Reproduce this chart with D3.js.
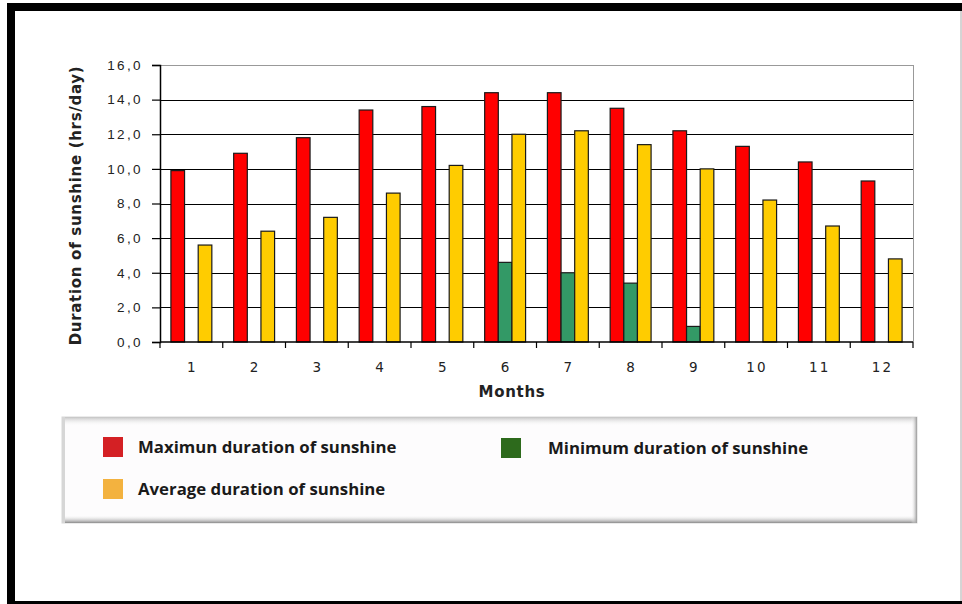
<!DOCTYPE html>
<html>
<head>
<meta charset="utf-8">
<script src="https://cdn.jsdelivr.net/npm/d3@7"></script>
<style>
  body { margin: 0; background: #fff; }
</style>
</head>
<body>
<div id="chart-area"></div>
<script>
// data
const months = ['1', '2', '3', '4', '5', '6', '7', '8', '9', '10', '11', '12'];
const maxSun = [9.9, 10.9, 11.8, 13.4, 13.6, 14.4, 14.4, 13.5, 12.2, 11.3, 10.4, 9.3];
const minSun = [0, 0, 0, 0, 0, 4.6, 4.0, 3.4, 0.9, 0, 0, 0];
const avgSun = [5.6, 6.4, 7.2, 8.6, 10.2, 12.0, 12.2, 11.4, 10.0, 8.2, 6.7, 4.8];
const yTicks = [0, 2, 4, 6, 8, 10, 12, 14, 16];
const legendLabels = ['Maximun duration of sunshine', 'Minimum duration of sunshine', 'Average duration of sunshine'];

const seriesKeys = ['max', 'min', 'avg'];
const barColor = { max: '#ff0000', min: '#339966', avg: '#ffcc00' };
const legendColor = ['#d42024', '#2d6a1c', '#f3b23f'];
// legend layout: swatch position and gap to the label
const legendPos = [
  { x: 103, y: 437, dx: 35 },
  { x: 501, y: 438, dx: 47 },
  { x: 103, y: 479, dx: 35 }
];

const W = 962, H = 604;
const plot = { left: 160, right: 913, top: 65, bottom: 342 };

let svg = d3.select('#chart-area')
  .append('svg')
  .attr('width', W)
  .attr('height', H)
  .style('font-family', '"DejaVu Sans", Verdana, sans-serif');

// outer frame
svg.append('rect').attr('x', 0).attr('y', 0).attr('width', W).attr('height', H).attr('fill', '#fff');
svg.append('rect').attr('x', 7).attr('y', 3).attr('width', W - 7).attr('height', 8).attr('fill', '#000');
svg.append('rect').attr('x', 7).attr('y', 3).attr('width', 8).attr('height', H - 3).attr('fill', '#000');
svg.append('rect').attr('x', 7).attr('y', 601).attr('width', W - 7).attr('height', 3).attr('fill', '#000');
svg.append('line').attr('x1', 961).attr('x2', 961).attr('y1', 11).attr('y2', 601)
  .attr('stroke', '#aaa').attr('stroke-width', 1);

const x0 = d3.scaleBand().domain(months).range([plot.left, plot.right]).padding(0);
const x1 = d3.scaleBand().domain(seriesKeys).range([0, x0.bandwidth()]).paddingInner(0).paddingOuter(0.8);
const y = d3.scaleLinear().domain([0, 16]).range([plot.bottom, plot.top]);

let g = svg.append('g');

// gridlines
g.append('g')
  .selectAll('line')
  .data(yTicks.filter(d => d > 0))
  .join('line')
  .attr('x1', plot.left).attr('x2', plot.right)
  .attr('y1', d => Math.round(y(d)) + 0.5).attr('y2', d => Math.round(y(d)) + 0.5)
  .attr('stroke', d => d === 16 ? '#999' : '#000')
  .attr('stroke-width', 1);

// right border of plot area
g.append('line')
  .attr('x1', plot.right + 0.5).attr('x2', plot.right + 0.5)
  .attr('y1', plot.top).attr('y2', plot.bottom)
  .attr('stroke', '#999');

// bars
const rows = months.map((m, i) => ({ month: m, max: maxSun[i], min: minSun[i], avg: avgSun[i] }));

g.append('g')
  .selectAll('g')
  .data(rows)
  .join('g')
  .attr('transform', d => `translate(${x0(d.month)},0)`)
  .selectAll('rect')
  .data(d => seriesKeys.filter(k => d[k] > 0).map(k => ({ key: k, value: d[k] })))
  .join('rect')
  .attr('x', d => x1(d.key))
  .attr('width', x1.bandwidth())
  .attr('y', d => y(d.value))
  .attr('height', d => y(0) - y(d.value))
  .attr('fill', d => barColor[d.key])
  .attr('stroke', '#1a1a1a')
  .attr('stroke-width', 1.2);

// y axis
const yAxis = d3.axisLeft(y)
  .tickValues(yTicks)
  .tickSize(8)
  .tickPadding(9)
  .tickFormat(d => d3.format('.1f')(d).replace('.', ','));

const yg = g.append('g')
  .attr('transform', `translate(${plot.left},0)`)
  .call(yAxis);
yg.select('.domain').attr('stroke', '#000').attr('stroke-width', 1.5);
yg.selectAll('.tick line').attr('stroke', '#000').attr('stroke-width', 1.2);
yg.selectAll('.tick text')
  .attr('font-size', 13.5)
  .attr('fill', '#222')
  .attr('letter-spacing', '2.4px');

// x axis: ticks sit between the months
const xg = g.append('g')
  .attr('transform', `translate(0,${plot.bottom})`);
xg.append('line')
  .attr('x1', plot.left).attr('x2', plot.right)
  .attr('stroke', '#000').attr('stroke-width', 1.5);
xg.selectAll('.xtick')
  .data(months.concat(['end']))
  .join('line')
  .attr('class', 'xtick')
  .attr('x1', d => d === 'end' ? plot.right : x0(d))
  .attr('x2', d => d === 'end' ? plot.right : x0(d))
  .attr('y1', 0).attr('y2', 6)
  .attr('stroke', '#000').attr('stroke-width', 1.2);
xg.selectAll('.xlabel')
  .data(months)
  .join('text')
  .attr('class', 'xlabel')
  .attr('x', d => x0(d) + x0.bandwidth() / 2 + 1)
  .attr('y', 30)
  .attr('text-anchor', 'middle')
  .attr('font-size', 13.5)
  .attr('letter-spacing', '2.4px')
  .attr('fill', '#222')
  .text(d => d);

// axis titles
svg.append('text')
  .attr('x', 512).attr('y', 397)
  .attr('text-anchor', 'middle')
  .attr('font-size', 15)
  .attr('font-weight', 'bold')
  .attr('letter-spacing', '0.7px')
  .attr('fill', '#222')
  .text('Months');

svg.append('text')
  .attr('transform', `translate(81,${(plot.top + plot.bottom) / 2 + 2}) rotate(-90)`)
  .attr('text-anchor', 'middle')
  .attr('font-size', 15)
  .attr('font-weight', 'bold')
  .attr('letter-spacing', '0.7px')
  .attr('fill', '#222')
  .text('Duration of sunshine (hrs/day)');

// legend box with soft bevel shadow
const defs = svg.append('defs');
const gradTop = defs.append('linearGradient').attr('id', 'gTop').attr('x1', 0).attr('x2', 0).attr('y1', 0).attr('y2', 1);
gradTop.append('stop').attr('offset', 0).attr('stop-color', '#c4c4c4');
gradTop.append('stop').attr('offset', 1).attr('stop-color', '#ffffff').attr('stop-opacity', 0);
const gradBot = defs.append('linearGradient').attr('id', 'gBot').attr('x1', 0).attr('x2', 0).attr('y1', 0).attr('y2', 1);
gradBot.append('stop').attr('offset', 0).attr('stop-color', '#ffffff').attr('stop-opacity', 0);
gradBot.append('stop').attr('offset', 1).attr('stop-color', '#8c8c8c');
const gradRight = defs.append('linearGradient').attr('id', 'gRight').attr('x1', 0).attr('x2', 1).attr('y1', 0).attr('y2', 0);
gradRight.append('stop').attr('offset', 0).attr('stop-color', '#ffffff').attr('stop-opacity', 0);
gradRight.append('stop').attr('offset', 1).attr('stop-color', '#9a9a9a');

const lg = svg.append('g');
const box = { x: 62, y: 417, w: 855, h: 106 };
lg.append('rect').attr('x', box.x).attr('y', box.y).attr('width', box.w).attr('height', box.h)
  .attr('fill', '#fdfcfd').attr('stroke', '#d8d8d8');
lg.append('rect').attr('x', box.x).attr('y', box.y).attr('width', box.w).attr('height', 9).attr('fill', 'url(#gTop)');
lg.append('rect').attr('x', box.x).attr('y', box.y + box.h - 8).attr('width', box.w).attr('height', 8).attr('fill', 'url(#gBot)');
lg.append('rect').attr('x', box.x + box.w - 6).attr('y', box.y).attr('width', 6).attr('height', box.h).attr('fill', 'url(#gRight)');
lg.append('rect').attr('x', box.x).attr('y', box.y).attr('width', 3).attr('height', box.h).attr('fill', '#d6d6d6');

const item = lg.selectAll('.item')
  .data(legendLabels.map((label, i) => ({ label, color: legendColor[i], pos: legendPos[i] })))
  .join('g')
  .attr('class', 'item')
  .attr('transform', d => `translate(${d.pos.x},${d.pos.y})`);
item.append('rect')
  .attr('width', 20).attr('height', 20)
  .attr('fill', d => d.color);
item.append('text')
  .attr('x', d => d.pos.dx).attr('y', 16)
  .attr('font-family', '"Open Sans", Lato, sans-serif')
  .attr('font-weight', 'bold')
  .attr('font-size', 16.8)
  .attr('fill', '#1a1a1a')
  .text(d => d.label);
</script>
</body>
</html>
